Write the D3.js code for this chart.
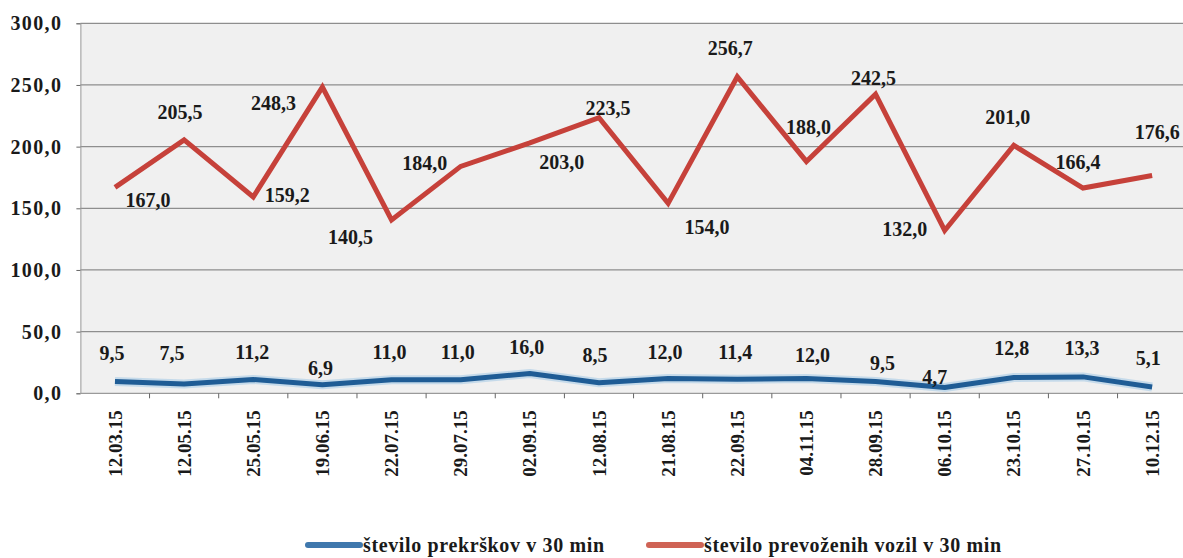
<!DOCTYPE html>
<html>
<head>
<meta charset="utf-8">
<script src="https://cdn.jsdelivr.net/npm/d3@7"></script>
<style>
  html, body { margin: 0; padding: 0; background: #ffffff; }
  svg { display: block; }
  text { font-family: "Liberation Serif", "Times New Roman", serif; font-weight: bold; fill: #1a1a1a; }
</style>
</head>
<body>
<svg id="chart" width="1183" height="558"></svg>
<script>
// ---- data ----
const categories = ["12.03.15","12.05.15","25.05.15","19.06.15","22.07.15","29.07.15","02.09.15","12.08.15",
                    "21.08.15","22.09.15","04.11.15","28.09.15","06.10.15","23.10.15","27.10.15","10.12.15"];
const prekrski = [9.5, 7.5, 11.2, 6.9, 11.0, 11.0, 16.0, 8.5, 12.0, 11.4, 12.0, 9.5, 4.7, 12.8, 13.3, 5.1];
const vozila   = [167.0, 205.5, 159.2, 248.3, 140.5, 184.0, 203.0, 223.5, 154.0, 256.7, 188.0, 242.5, 132.0, 201.0, 166.4, 176.6];
const yTicks = [0, 50, 100, 150, 200, 250, 300];
const seriesNames = ["število prekrškov v 30 min", "število prevoženih vozil v 30 min"];

// ---- layout (label nudges, in px, relative to each point) ----
const redLabelNudge = [[33,13],[-4,-28],[34,-2],[-49,16],[-41,17],[-36,-3],[32,19],[9,-10],
                       [39,24],[-7,-29],[2,-34],[-2,-16],[-40,-2],[-6,-28],[-5,-26],[5,-43]];
const blueLabelNudge = [[-3,-29],[-12,-31],[-1,-27],[-2,-17],[-2,-28],[-3,-28],[-3,-27],[-4,-28],
                        [-3,-27],[-2,-27],[6,-24],[7,-19],[-10,-11],[-2,-30],[-1,-29],[-4,-29]];

const fmt = v => v.toFixed(1).replace(".", ",");
const svg = d3.select("#chart");

const plot = { left: 80.4, right: 1186.7, top: 23.3, bottom: 393.3 };
const x = d3.scaleBand().domain(categories).range([plot.left, plot.right]).padding(0);
const cx = c => x(c) + x.bandwidth() / 2;
const y = d3.scaleLinear().domain([0, 300]).range([plot.bottom, plot.top]);

// plot background
svg.append("rect")
  .attr("x", plot.left).attr("y", plot.top)
  .attr("width", plot.right - plot.left).attr("height", plot.bottom - plot.top)
  .attr("fill", "#f0f0f0");

// gridlines
svg.append("g").selectAll("line").data(yTicks.filter(t => t > 0)).join("line")
  .attr("x1", plot.left).attr("x2", plot.right)
  .attr("y1", d => y(d)).attr("y2", d => y(d))
  .attr("stroke", "#8e8e8e").attr("stroke-width", 1.3);

// y axis
const yAxis = d3.axisLeft(y).tickValues(yTicks).tickSize(4).tickFormat(fmt);
const gy = svg.append("g").attr("transform", `translate(${plot.left},0)`).call(yAxis);
gy.select(".domain").attr("stroke", "#9a9a9a");
gy.selectAll(".tick line").attr("stroke", "#666");
gy.selectAll(".tick text")
  .attr("x", -18)
  .style("font-size", "20px").style("letter-spacing", "1.4px")
  .attr("fill", "#1a1a1a");

// x axis (ticks between categories)
const gx = svg.append("g").attr("transform", `translate(0,${plot.bottom})`);
gx.append("line").attr("x1", plot.left).attr("x2", plot.right)
  .attr("stroke", "#9a9a9a").attr("stroke-width", 1.2);
gx.selectAll("line.t").data(categories.slice(1)).join("line").attr("class", "t")
  .attr("x1", d => x(d)).attr("x2", d => x(d)).attr("y1", 0).attr("y2", 5)
  .attr("stroke", "#666");
gx.selectAll("text").data(categories).join("text")
  .attr("transform", d => `translate(${cx(d)},17) rotate(-90)`)
  .attr("text-anchor", "end").attr("dy", "0.35em")
  .style("font-size", "19px")
  .text(d => d);

// lines
const lineGen = d3.line().x((d, i) => cx(categories[i])).y(d => y(d));
svg.append("path").datum(prekrski)
  .attr("d", lineGen).attr("fill", "none")
  .attr("stroke", "#a9cbe6").attr("stroke-width", 9).attr("stroke-linejoin", "round").attr("opacity", 0.6);
svg.append("path").datum(prekrski)
  .attr("d", lineGen).attr("fill", "none")
  .attr("stroke", "#1f5c95").attr("stroke-width", 5).attr("stroke-linejoin", "round");
svg.append("path").datum(vozila)
  .attr("d", lineGen).attr("fill", "none")
  .attr("stroke", "#c6413a").attr("stroke-width", 5).attr("stroke-linejoin", "miter");

// data labels
svg.append("g").selectAll("text").data(vozila).join("text")
  .attr("x", (d, i) => cx(categories[i]) + redLabelNudge[i][0])
  .attr("y", (d, i) => y(d) + redLabelNudge[i][1])
  .attr("dy", "0.35em").attr("text-anchor", "middle")
  .style("font-size", "20px")
  .text(fmt);
svg.append("g").selectAll("text").data(prekrski).join("text")
  .attr("x", (d, i) => cx(categories[i]) + blueLabelNudge[i][0])
  .attr("y", (d, i) => y(d) + blueLabelNudge[i][1])
  .attr("dy", "0.35em").attr("text-anchor", "middle")
  .style("font-size", "20px")
  .text(fmt);

// legend
const legendItems = [
  { name: seriesNames[0], color: "#3f78ad", x: 308, w: 241 },
  { name: seriesNames[1], color: "#cf6355", x: 649, w: 297 }
];
const lg = svg.append("g");
legendItems.forEach(it => {
  lg.append("line").attr("x1", it.x).attr("x2", it.x + 52).attr("y1", 545).attr("y2", 545)
    .attr("stroke", it.color).attr("stroke-width", 6).attr("stroke-linecap", "round");
  lg.append("text").attr("x", it.x + 55).attr("y", 545).attr("dy", "0.35em")
    .style("font-size", "20px")
    .attr("textLength", it.w).attr("lengthAdjust", "spacing")
    .text(it.name);
});
</script>
</body>
</html>
